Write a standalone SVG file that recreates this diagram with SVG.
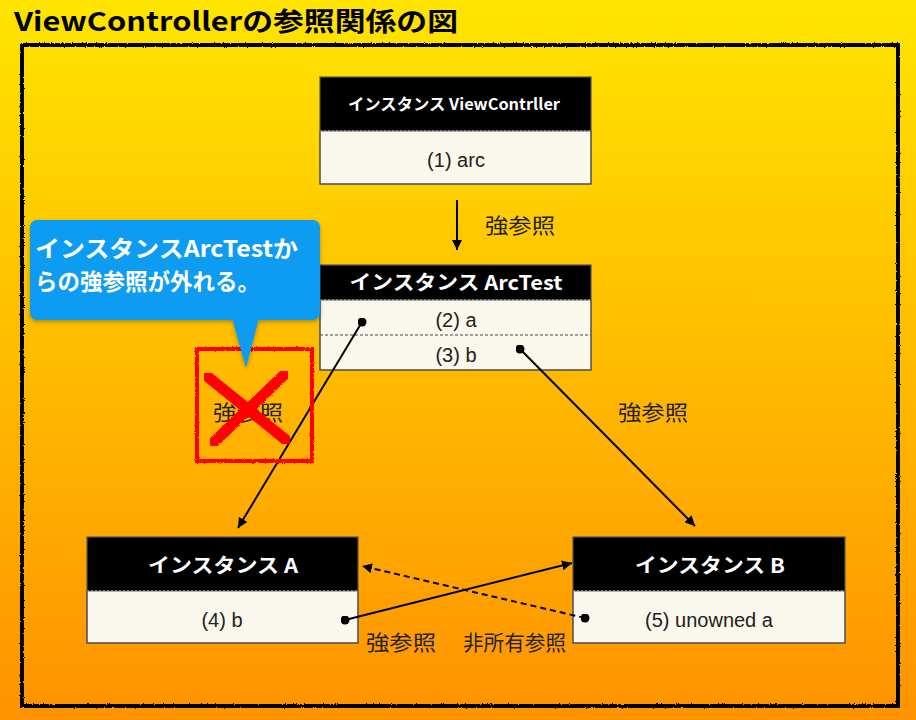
<svg xmlns="http://www.w3.org/2000/svg" width="916" height="720" viewBox="0 0 916 720">
<defs>
<linearGradient id="bg" x1="0" y1="0" x2="0" y2="1">
<stop offset="0" stop-color="#FFE500"/>
<stop offset="1" stop-color="#FF9200"/>
</linearGradient>
<filter id="rough" x="-5%" y="-5%" width="110%" height="110%">
<feTurbulence type="fractalNoise" baseFrequency="0.9" numOctaves="2" seed="3" result="n"/>
<feDisplacementMap in="SourceGraphic" in2="n" scale="2.5"/>
</filter>
<filter id="shadow" x="-10%" y="-10%" width="120%" height="130%">
<feDropShadow dx="0" dy="2" stdDeviation="2" flood-color="#000" flood-opacity="0.3"/>
</filter>
<marker id="ah" viewBox="0 0 10 10" refX="10" refY="5" markerWidth="10" markerHeight="10" markerUnits="userSpaceOnUse" orient="auto">
<path d="M0,0 L10,5 L0,10 z" fill="#000"/>
</marker>
<marker id="dot" viewBox="0 0 10 10" refX="5" refY="5" markerWidth="9" markerHeight="9" markerUnits="userSpaceOnUse">
<circle cx="5" cy="5" r="5" fill="#000"/>
</marker>
</defs>
<style>
.hdr{fill:#000}
.body{fill:#FAF8EC;stroke:#555;stroke-width:1}
.box{fill:none;stroke:#555;stroke-width:1.2}
.ht{font-family:"Noto Sans CJK JP","Liberation Sans",sans-serif;font-weight:bold;fill:#fff;text-anchor:middle}
.bt{font-family:"Liberation Sans","Noto Sans CJK JP",sans-serif;font-size:20px;fill:#222;text-anchor:middle}
.lbl{font-family:"Noto Sans CJK JP",sans-serif;font-size:21px;fill:#222}
.sep{stroke:#444;stroke-width:1;stroke-dasharray:3 2}
.sepw{stroke:#ccc;stroke-width:1;stroke-dasharray:2 2}
.conn{stroke:#000;stroke-width:2;fill:none}
.co{font-family:"Noto Sans CJK JP",sans-serif;font-size:23px;font-weight:bold;fill:#fff}
</style>
<rect x="0" y="0" width="916" height="720" fill="url(#bg)"/>
<text x="14" y="31" font-family="'Noto Sans CJK JP','Liberation Sans',sans-serif" font-size="26" font-weight="bold" fill="#000" textLength="444" lengthAdjust="spacingAndGlyphs">ViewControllerの参照関係の図</text>
<rect x="22" y="45" width="876" height="661" fill="none" stroke="#000" stroke-width="4" filter="url(#rough)"/>

<g id="node-viewcontroller">
<rect x="320" y="77" width="271" height="54" class="hdr"/>
<rect x="320" y="131" width="271" height="53" class="body"/>
<line x1="320" y1="131" x2="591" y2="131" class="sepw"/>
<rect x="320" y="77" width="271" height="107" class="box"/>
<text x="454" y="110" class="ht" font-size="16" textLength="212" lengthAdjust="spacingAndGlyphs">インスタンス ViewContrller</text>
<text x="456" y="167" class="bt">(1) arc</text>
</g>

<g id="node-arctest">
<rect x="320" y="265" width="271" height="35" class="hdr"/>
<rect x="320" y="300" width="271" height="70" class="body"/>
<line x1="320" y1="300" x2="591" y2="300" class="sepw"/>
<line x1="320" y1="335" x2="591" y2="335" class="sep"/>
<rect x="320" y="265" width="271" height="105" class="box"/>
<text x="456" y="290" class="ht" font-size="20" textLength="213" lengthAdjust="spacingAndGlyphs">インスタンス ArcTest</text>
<text x="456" y="327" class="bt">(2) a</text>
<text x="456" y="362" class="bt">(3) b</text>
</g>

<g id="node-a">
<rect x="87" y="537" width="271" height="54" class="hdr"/>
<rect x="87" y="591" width="271" height="52" class="body"/>
<line x1="87" y1="591" x2="358" y2="591" class="sepw"/>
<rect x="87" y="537" width="271" height="106" class="box"/>
<text x="223" y="573" class="ht" font-size="20" textLength="150" lengthAdjust="spacingAndGlyphs">インスタンス A</text>
<text x="222" y="627" class="bt">(4) b</text>
</g>

<g id="node-b">
<rect x="573" y="537" width="272" height="54" class="hdr"/>
<rect x="573" y="591" width="272" height="52" class="body"/>
<line x1="573" y1="591" x2="845" y2="591" class="sepw"/>
<rect x="573" y="537" width="272" height="106" class="box"/>
<text x="710" y="573" class="ht" font-size="20" textLength="150" lengthAdjust="spacingAndGlyphs">インスタンス B</text>
<text x="709" y="627" class="bt">(5) unowned a</text>
</g>

<g id="connectors">
<line x1="457" y1="200" x2="457" y2="250" class="conn" marker-end="url(#ah)"/>
<line x1="362" y1="322" x2="238" y2="528" class="conn" marker-start="url(#dot)" marker-end="url(#ah)"/>
<line x1="520" y1="349" x2="695" y2="526" class="conn" marker-start="url(#dot)" marker-end="url(#ah)"/>
<line x1="345" y1="620" x2="572" y2="563" class="conn" marker-start="url(#dot)" marker-end="url(#ah)"/>
<line x1="585" y1="618" x2="362" y2="566" class="conn" stroke-dasharray="6 4" marker-start="url(#dot)" marker-end="url(#ah)"/>
</g>

<g id="labels">
<text x="485" y="233" class="lbl" textLength="70" lengthAdjust="spacingAndGlyphs">強参照</text>
<text x="618" y="420" class="lbl" textLength="70" lengthAdjust="spacingAndGlyphs">強参照</text>
<text x="366" y="650" class="lbl" textLength="70" lengthAdjust="spacingAndGlyphs">強参照</text>
<text x="463" y="650" class="lbl" textLength="103" lengthAdjust="spacingAndGlyphs">非所有参照</text>
</g>

<g id="crossed-out">
<rect x="197" y="349" width="115" height="112" fill="none" stroke="#FF0000" stroke-width="4" filter="url(#rough)"/>
<text x="213" y="420" class="lbl" textLength="70" lengthAdjust="spacingAndGlyphs">強参照</text>
<line x1="208" y1="377" x2="286" y2="440" stroke="#FF0000" stroke-width="11" stroke-linecap="round" filter="url(#rough)"/>
<line x1="284" y1="375" x2="214" y2="442" stroke="#FF0000" stroke-width="11" stroke-linecap="round" filter="url(#rough)"/>
</g>

<g id="callout">
<g filter="url(#shadow)">
<rect x="30" y="220" width="290" height="100" rx="7" fill="#0A9CF2"/>
<path d="M232,318 L259,318 L246,368 z" fill="#0A9CF2"/>
</g>
<text x="35" y="257" class="co" textLength="263" lengthAdjust="spacingAndGlyphs">インスタンスArcTestか</text>
<text x="35" y="290" class="co" textLength="225" lengthAdjust="spacingAndGlyphs">らの強参照が外れる。</text>
</g>
</svg>
